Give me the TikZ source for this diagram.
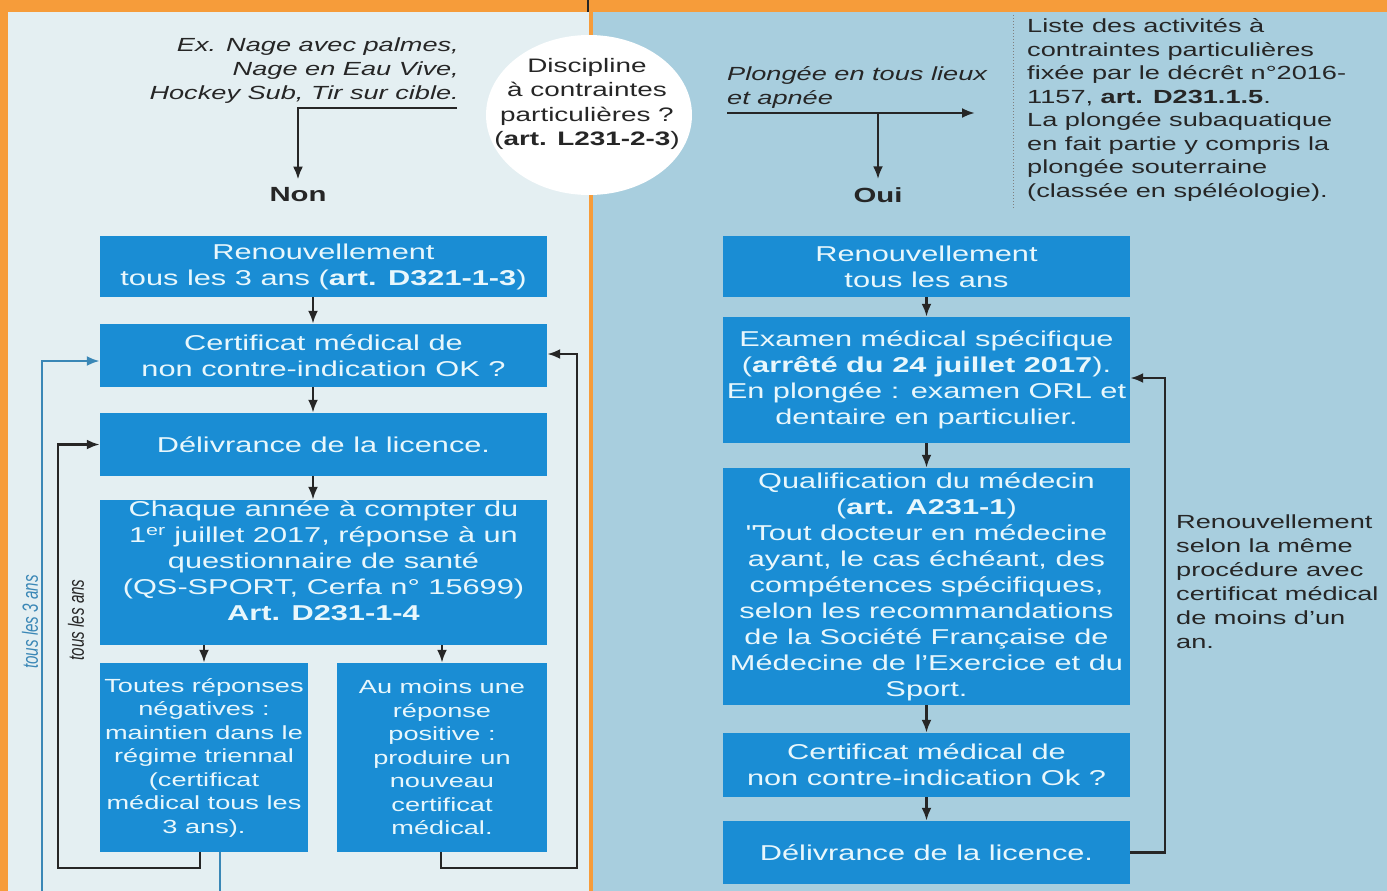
\documentclass[tikz,border=0pt]{standalone}
\usepackage{fontspec}
\setmainfont{Liberation Sans}[FakeStretch=1.43]
\newfontfamily\rotfont{Liberation Sans}[FakeStretch=0.69]
\usetikzlibrary{arrows.meta,shapes.geometric}
\definecolor{orangebg}{HTML}{F69C3A}
\definecolor{leftbg}{HTML}{E4EFF2}
\definecolor{rightbg}{HTML}{A8CEDE}
\definecolor{boxblue}{HTML}{1A8DD4}
\definecolor{boxtxt}{HTML}{E8F7FC}
\definecolor{ink}{HTML}{262626}
\definecolor{loopblue}{HTML}{3A87B6}
\tikzset{
  box/.style={fill=boxblue, text=boxtxt, align=center, inner sep=0pt, font=\fontsize{21.5}{26}\selectfont},
  boxtext/.style={text=boxtxt, align=center, inner sep=0pt, font=\fontsize{21.5}{26}\selectfont},
  smallbox/.style={box, font=\fontsize{19}{23.5}\selectfont},
  note/.style={text=ink, inner sep=0pt, font=\fontsize{19}{23.5}\selectfont},
  noteit/.style={note, font=\fontsize{19}{24}\selectfont\itshape},
  answer/.style={text=ink, inner sep=0pt, font=\fontsize{20.5}{24}\selectfont\bfseries},
  arr/.style={draw=ink, line width=2.6pt, -{Latex[length=13pt,width=10pt]}},
  bluearr/.style={draw=loopblue, line width=2.6pt, -{Latex[length=13pt,width=10pt]}},
  rotlabel/.style={rotate=90, inner sep=0pt, font={\rotfont\itshape\fontsize{22}{22}\selectfont}}
}
\begin{document}
\begin{tikzpicture}[x=1pt,y=-1pt]
\useasboundingbox (0,0) rectangle (1387,891);
\clip (0,0) rectangle (1387,891);
% backgrounds
\fill[orangebg] (0,0) rectangle (1387,891);
\fill[leftbg] (8,12) rectangle (589,891);
\fill[rightbg] (593,12) rectangle (1387,891);
\draw[ink, line width=2.5pt] (588,0) -- (588,12);
\draw[gray, line width=1pt, dash pattern=on 1pt off 2pt] (1013,15) -- (1013,208);

% question
\node[ellipse, fill=white, minimum width=206pt, minimum height=160pt, inner sep=0pt] (q) at (589,115) {};
\node[note, align=center, font=\fontsize{19.5}{24.5}\selectfont] (qt) at (587,104)
  {Discipline\\à contraintes\\particulières ?\\(\textbf{art. L231-2-3})};

% left top
\node[noteit, anchor=east, align=right] (ex) at (459,71)
  {Ex. Nage avec palmes,\\Nage en Eau Vive,\\Hockey Sub, Tir sur cible.};
\node[answer] (non) at (298,195) {Non};
\coordinate (nstart) at (457,108);
\draw[arr, shorten >=8pt] (nstart) -| (non.north);

% right top
\node[noteit, anchor=west, align=left] (pl) at (727,87) {Plongée en tous lieux\\et apnée};
\coordinate (pstart) at (727,113);
\coordinate (pend) at (975,113);
\draw[arr] (pstart) -- (pend);
\node[answer] (oui) at (878,195) {Oui};
\draw[arr, shorten >=8pt] (oui |- pstart) -- (oui.north);
\node[note, anchor=west, align=left] (liste) at (1027,110)
  {Liste des activités à\\contraintes particulières\\fixée par le décrêt n°2016-\\1157, \textbf{art. D231.1.5}.\\La plongée subaquatique\\en fait partie y compris la\\plongée souterraine\\(classée en spéléologie).};

% left column
\node[box, minimum width=447pt, minimum height=61pt] (l1) at (323.5,266.5)
  {Renouvellement\\tous les 3 ans (\textbf{art. D321-1-3})};
\node[box, minimum width=447pt, minimum height=63pt] (l2) at (323.5,355.5)
  {Certificat médical de\\non contre-indication OK ?};
\node[box, minimum width=447pt, minimum height=63pt] (l3) at (323.5,444.5)
  {Délivrance de la licence.};
\node[box, minimum width=447pt, minimum height=145pt] (l4) at (323.5,572.5) {};
\node[boxtext] (l4t) at (323.5,561)
  {Chaque année à compter du\\1\textsuperscript{er} juillet 2017, réponse à un\\questionnaire de santé\\(QS-SPORT, Cerfa n° 15699)\\\textbf{Art. D231-1-4}};
\node[smallbox, minimum width=208pt, minimum height=189pt] (l5) at (204,757.5)
  {Toutes réponses\\négatives :\\maintien dans le\\régime triennal\\(certificat\\médical tous les\\3 ans).};
\node[smallbox, minimum width=210pt, minimum height=189pt] (l6) at (442,757.5)
  {Au moins une\\réponse\\positive :\\produire un\\nouveau\\certificat\\médical.};

\draw[arr] ([xshift=-10.5pt]l1.south) -- ([xshift=-10.5pt]l2.north);
\draw[arr] ([xshift=-10.5pt]l2.south) -- ([xshift=-10.5pt]l3.north);
\draw[arr] ([xshift=-10.5pt]l3.south) -- ([xshift=-10.5pt]l4.north);
\draw[arr] (l5.north |- l4.south) -- (l5.north);
\draw[arr] (l6.north |- l4.south) -- (l6.north);

% left loops
\coordinate (bl1) at (58,868);
\coordinate (br1) at (577,868);
\draw[arr] ([xshift=-4pt]l5.south) |- (bl1) |- (l3.west);
\draw[arr] ([xshift=-1pt]l6.south) |- (br1) |- ([yshift=1.5pt]l2.east);
\coordinate (bb1) at (220,905);
\coordinate (bb2) at (42,905);
\draw[bluearr] ([xshift=16pt]l5.south) -- (bb1) -- (bb2) |- ([yshift=-5.5pt]l2.west);
\node[rotlabel, text=loopblue] (t3) at (30,622) {tous les 3 ans};
\node[rotlabel, text=ink] (t1) at (76,620) {tous les ans};

% right column
\node[box, minimum width=407pt, minimum height=61pt] (r1) at (926.5,266.5)
  {Renouvellement\\tous les ans};
\node[box, minimum width=407pt, minimum height=126pt] (r2) at (926.5,380)
  {Examen médical spécifique\\(\textbf{arrêté du 24 juillet 2017}).\\En plongée : examen ORL et\\dentaire en particulier.};
\node[box, minimum width=407pt, minimum height=237pt] (r3) at (926.5,586.5)
  {Qualification du médecin\\(\textbf{art. A231-1})\\\textquotedbl Tout docteur en médecine\\ayant, le cas échéant, des\\compétences spécifiques,\\selon les recommandations\\de la Société Française de\\Médecine de l'Exercice et du\\Sport.};
\node[box, minimum width=407pt, minimum height=64pt] (r4) at (926.5,765)
  {Certificat médical de\\non contre-indication Ok ?};
\node[box, minimum width=407pt, minimum height=63pt] (r5) at (926.5,852.5)
  {Délivrance de la licence.};
\draw[arr] (r1.south) -- (r2.north);
\draw[arr] (r2.south) -- (r3.north);
\draw[arr] (r3.south) -- (r4.north);
\draw[arr] (r4.south) -- (r5.north);
\coordinate (rc) at (1165,852.5);
\draw[arr] (r5.east) -- (rc) |- ([yshift=2pt]r2.east);
\node[note, anchor=west, align=left, font=\fontsize{19}{24}\selectfont] (renote) at (1176,582)
  {Renouvellement\\selon la même\\procédure avec\\certificat médical\\de moins d'un\\an.};
\end{tikzpicture}
\end{document}
